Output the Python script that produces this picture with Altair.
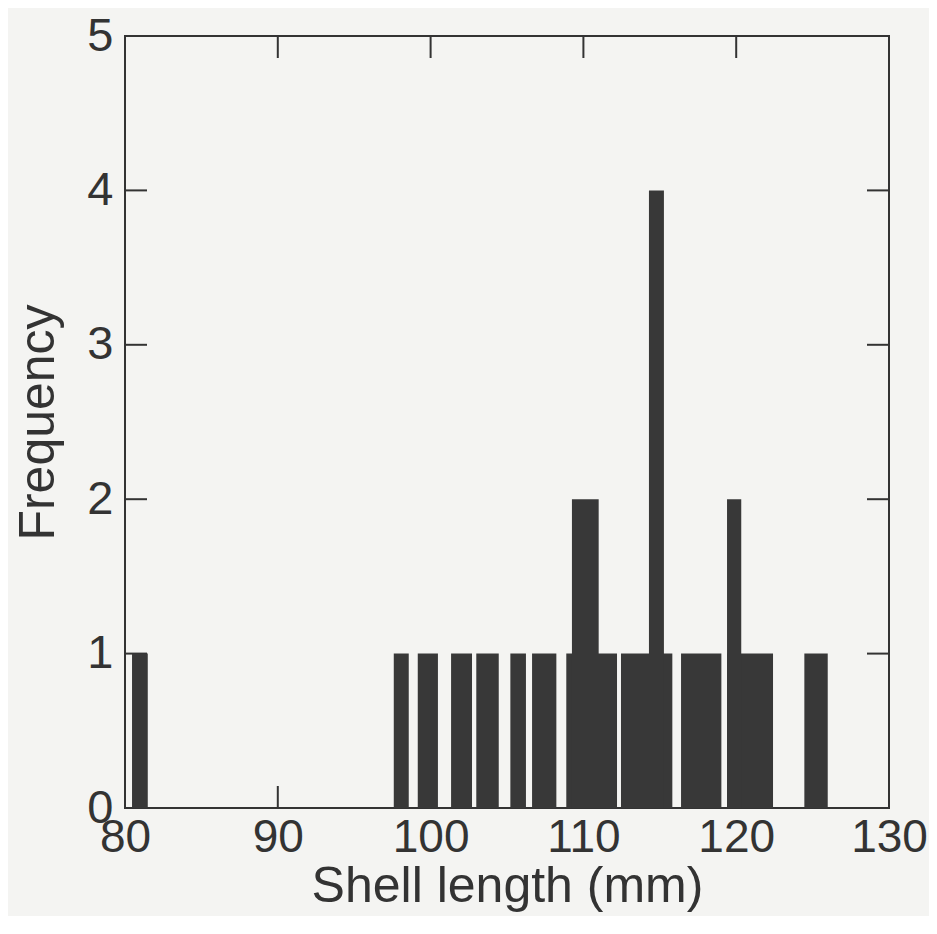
import altair as alt
import pandas as pd

# Histogram bars (mm start, mm end, frequency)
bar_start = [80.46, 97.59, 99.16, 101.34, 102.99, 105.22, 106.64, 108.88, 109.25, 112.46, 114.29, 116.39, 119.40, 119.40, 124.46]
bar_end   = [81.49, 98.57, 100.48, 102.71, 104.46, 106.24, 108.23, 112.20, 111.00, 115.82, 115.27, 119.03, 122.41, 120.33, 125.99]
frequency = [1, 1, 1, 1, 1, 1, 1, 1, 2, 1, 4, 1, 1, 2, 1]

x_ticks = [80, 90, 100, 110, 120, 130]
y_ticks = [0, 1, 2, 3, 4, 5]

W, H = 764, 772
TICK = 22
INK = "#333333"
FONT = "Liberation Sans"

bars = pd.DataFrame({"start": bar_start, "end": bar_end, "freq": frequency, "zero": [0] * len(frequency)})
xt = pd.DataFrame({"start": x_ticks})
yt = pd.DataFrame({"freq": y_ticks})

xscale = alt.Scale(domain=[80, 130], nice=False, zero=False)
yscale = alt.Scale(domain=[0, 5], nice=False)

xaxis = alt.Axis(values=x_ticks, title="Shell length (mm)", ticks=False, domain=False,
                 grid=False, labelFontSize=46, labelPadding=7, labelFlush=False, titleFontSize=50,
                 titleFontWeight="normal", titlePadding=1, labelColor=INK, titleColor=INK,
                 labelFont=FONT, titleFont=FONT, format="d")
yaxis = alt.Axis(values=y_ticks, title="Frequency", ticks=False, domain=False,
                 grid=False, labelFontSize=47, labelPadding=12, labelFlush=False, titleFontSize=50,
                 titleFontWeight="normal", titlePadding=23, labelColor=INK, titleColor=INK,
                 labelFont=FONT, titleFont=FONT, format="d")

bar_layer = alt.Chart(bars).mark_rect(color="#383838").encode(
    x=alt.X("start:Q", scale=xscale, axis=xaxis),
    x2="end:Q",
    y=alt.Y("freq:Q", scale=yscale, axis=yaxis),
    y2="zero:Q",
)

rule = dict(color=INK, strokeWidth=2)
bottom_ticks = alt.Chart(xt).mark_rule(**rule).encode(
    x=alt.X("start:Q", scale=xscale, axis=xaxis), y=alt.value(H), y2=alt.value(H - TICK))
top_ticks = alt.Chart(xt).mark_rule(**rule).encode(
    x=alt.X("start:Q", scale=xscale, axis=xaxis), y=alt.value(0), y2=alt.value(TICK))
left_ticks = alt.Chart(yt).mark_rule(**rule).encode(
    y=alt.Y("freq:Q", scale=yscale, axis=yaxis), x=alt.value(0), x2=alt.value(TICK))
right_ticks = alt.Chart(yt).mark_rule(**rule).encode(
    y=alt.Y("freq:Q", scale=yscale, axis=yaxis), x=alt.value(W - TICK), x2=alt.value(W))

chart = alt.layer(bottom_ticks, top_ticks, left_ticks, right_ticks, bar_layer).properties(
    width=W, height=H,
    autosize=alt.AutoSizeParams(type="none"),
    padding={"left": 117, "top": 28, "right": 40, "bottom": 108},
    background="#f4f4f2",
).configure_view(stroke=INK, strokeWidth=2)

chart.save("out.html", embed_options={"renderer": "svg", "actions": False})
